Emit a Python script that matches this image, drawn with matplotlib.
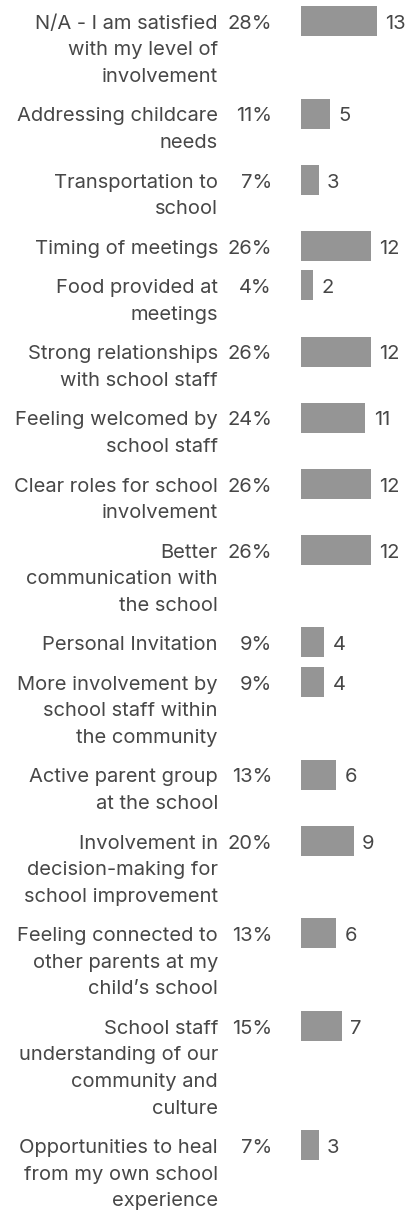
import matplotlib.pyplot as plt

# survey answers, one row per option
labels = [
    ["N/A - I am satisfied", "with my level of", "involvement"],
    ["Addressing childcare", "needs"],
    ["Transportation to", "school"],
    ["Timing of meetings"],
    ["Food provided at", "meetings"],
    ["Strong relationships", "with school staff"],
    ["Feeling welcomed by", "school staff"],
    ["Clear roles for school", "involvement"],
    ["Better", "communication with", "the school"],
    ["Personal Invitation"],
    ["More involvement by", "school staff within", "the community"],
    ["Active parent group", "at the school"],
    ["Involvement in", "decision-making for", "school improvement"],
    ["Feeling connected to", "other parents at my", "child\u2019s school"],
    ["School staff", "understanding of our", "community and", "culture"],
    ["Opportunities to heal", "from my own school", "experience"],
]
percents = [28, 11, 7, 26, 4, 26, 24, 26, 26, 9, 9, 13, 20, 13, 15, 7]
counts = [13, 5, 3, 12, 2, 12, 11, 12, 12, 4, 4, 6, 9, 6, 7, 3]

W, H = 406, 1214
LINE = 26.55
GAP = 13
BAR_H = 30
BASE = 22.8
TEXT = "#474747"
BAR = "#959595"
FONT = "Inter"
FS = 14.5

fig = plt.figure(figsize=(W / 100, H / 100), dpi=100)

# text layer in pixel coordinates
tax = fig.add_axes([0, 0, 1, 1])
tax.set_xlim(0, W)
tax.set_ylim(H, 0)
tax.axis("off")

# bar layer: x in counts, y in pixels
bx0 = 301
unit = 5.85
bax = fig.add_axes([bx0 / W, 0, (W - bx0) / W, 1])
bax.set_xlim(0, (W - bx0) / unit)
bax.set_ylim(H, 0)
bax.axis("off")

top = 6
for lines, pct, n in zip(labels, percents, counts):
    for j, s in enumerate(lines):
        tax.text(218, top + BASE + j * LINE, s, ha="right", va="baseline",
                 color=TEXT, fontsize=FS, family=FONT)
    tax.text(272, top + BASE, f"{pct}%", ha="right", va="baseline",
             color=TEXT, fontsize=FS, family=FONT)
    bax.barh(top + BAR_H / 2, n, height=BAR_H, left=0, color=BAR)
    bax.annotate(str(n), (n, top + BASE), xytext=(6, 0), textcoords="offset points",
                 ha="left", va="baseline", color=TEXT, fontsize=FS, family=FONT,
                 annotation_clip=False)
    top += len(lines) * LINE + GAP

fig.savefig("out.png", dpi=100)
